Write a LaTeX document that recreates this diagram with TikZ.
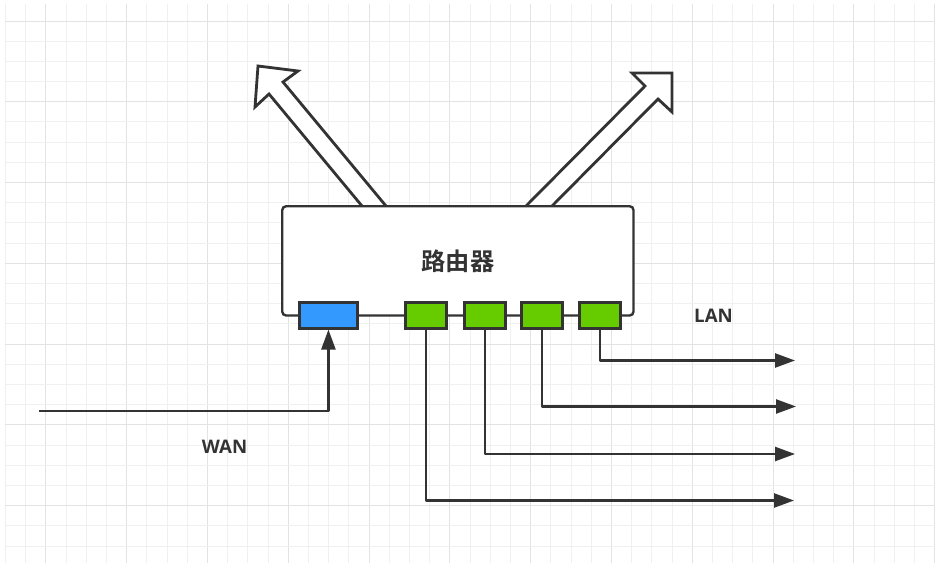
\documentclass[tikz,border=0pt]{standalone}
\usepackage{fontspec}
\setmainfont{Open Sans}
\newfontfamily\cjkfont{Noto Sans CJK SC}[BoldFont={Noto Sans CJK SC Bold}]
\usetikzlibrary{arrows.meta}
\definecolor{ink}{HTML}{333333}
\definecolor{wanblue}{HTML}{3399FF}
\definecolor{langreen}{HTML}{66CC00}
\tikzset{
  x=0.75pt,y=-0.75pt,
  wire/.style={draw=ink,line width=1.8pt,line join=round},
  flow/.style={wire,-{Triangle[length=15pt,width=10.5pt]}},
  port/.style={draw=ink,line width=1.9pt,minimum height=19.5pt,inner sep=0pt,anchor=north west},
  wanport/.style={port,fill=wanblue,minimum width=43.75pt},
  lanport/.style={port,fill=langreen,minimum width=31pt},
  bigarrow/.style={draw=ink,line width=2.1pt,fill=white,line join=miter,miter limit=10},
  lab/.style={text=ink,font=\fontsize{14}{16}\selectfont\bfseries,inner sep=0pt},
  gridminor/.style={draw=black!6,line width=0.75pt},
  gridmajor/.style={draw=black!11,line width=0.75pt},
}
\begin{document}
\begin{tikzpicture}
\useasboundingbox (0,0) rectangle (941,574);
\fill[white] (0,0) rectangle (941,574);
% grid
\foreach \i in {0,...,46}{
  \pgfmathsetmacro{\gx}{round(5+20.2*\i)+0.5}
  \pgfmathtruncatemacro{\mj}{mod(\i,4)==2 ? 1 : 0}
  \ifnum\mj=1 \draw[gridmajor] (\gx,4) -- (\gx,563);
  \else \draw[gridminor] (\gx,4) -- (\gx,563);\fi
}
\foreach \j in {0,...,26}{
  \pgfmathsetmacro{\gy}{round(20.5+20.2*\j)+0.5}
  \pgfmathtruncatemacro{\mj}{mod(\j,4)==0 ? 1 : 0}
  \ifnum\mj=1 \draw[gridmajor] (5,\gy) -- (935,\gy);
  \else \draw[gridminor] (5,\gy) -- (935,\gy);\fi
}
% wide arrows
\draw[bigarrow] (362,206) -- (269,94) -- (255,107) -- (258,66) -- (298,71) -- (283,82) -- (386,206);
\draw[bigarrow] (526,206) -- (645,86) -- (632,73) -- (672,73) -- (672,112) -- (658,99) -- (552,206);
% router
\node[draw=ink,line width=1.8pt,fill=white,rounded corners=3pt,minimum width=263.5pt,minimum height=82pt,inner sep=0pt,anchor=north west] (router) at (281,205) {};
\node[text=ink,inner sep=0pt,font=\cjkfont\bfseries\fontsize{18.2}{20}\selectfont] (title) at (458,261.5) {路由器};
% ports
\node[wanport] (wan) at (298,301) {};
\node[lanport] (lan1) at (404,301) {};
\node[lanport] (lan2) at (463,301) {};
\node[lanport] (lan3) at (520,301) {};
\node[lanport] (lan4) at (578,301) {};
% connectors
\coordinate (wanin) at (39,411);
\coordinate (out1) at (794,500.5);
\coordinate (out2) at (795,454);
\coordinate (out3) at (796,406.5);
\coordinate (out4) at (795,360.5);
\draw[flow] (wanin) -| (wan.south);
\draw[flow] (lan1.south) |- (out1);
\draw[flow] (lan2.south) |- (out2);
\draw[flow] (lan3.south) |- (out3);
\draw[flow] (lan4.south) |- (out4);
% labels
\node[lab] (wanlab) at (224.5,446.5) {WAN};
\node[lab] (lanlab) at (713.5,315.5) {LAN};
\end{tikzpicture}
\end{document}
